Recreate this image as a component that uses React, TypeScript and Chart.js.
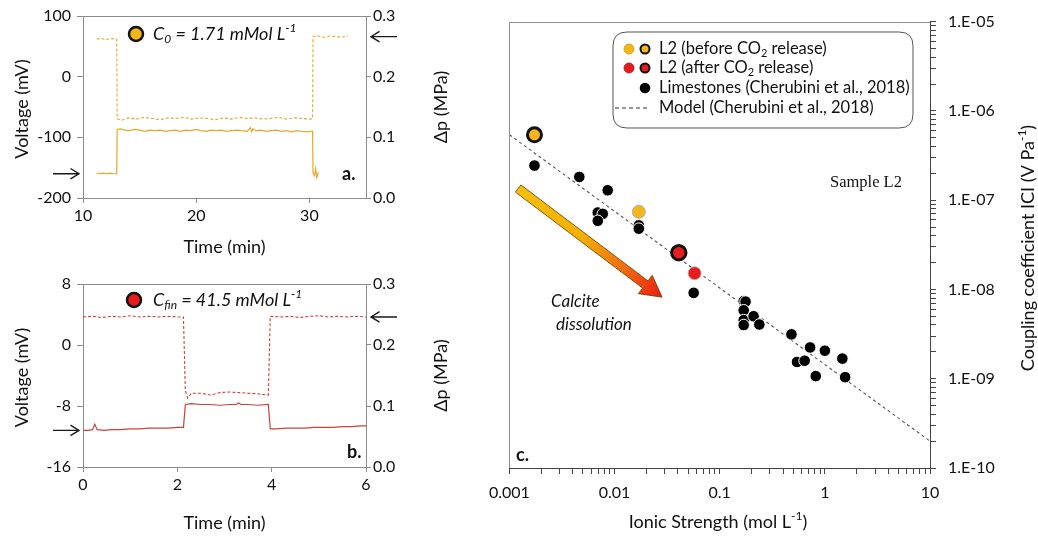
import React, { useEffect, useRef } from 'react';
import { Chart, registerables } from 'chart.js';
Chart.register(...registerables);

const SANS = 'Lato, "Open Sans", "DejaVu Sans", sans-serif';
const SERIF = '"Liberation Serif", "DejaVu Serif", serif';
Chart.defaults.font.family = SANS;

// ---------- Panel a (C0 = 1.71 mMol/L) ----------
const aTimeV = [11.2, 11.5, 11.8, 12.1, 12.4, 12.7, 12.98, 13.02, 13.3, 13.7, 14.1, 14.6, 15.0, 15.5, 15.9, 16.4, 16.8, 17.3, 17.7, 18.2, 18.6, 19.1, 19.5, 20.0, 20.4, 20.9, 21.3, 21.8, 22.2, 22.7, 23.1, 23.6, 24.0, 24.5, 24.8, 24.9, 25.0, 25.3, 25.7, 26.2, 26.6, 27.1, 27.5, 28.0, 28.4, 28.9, 29.3, 29.8, 30.28, 30.32, 30.45, 30.55, 30.65, 30.8];
const aVoltage = [-159, -160, -159, -160, -159, -160, -160, -87, -86, -88, -89, -87, -88, -90, -88, -89, -88, -90, -89, -88, -90, -88, -89, -87, -89, -90, -88, -89, -88, -90, -89, -88, -89, -90, -84, -91, -86, -89, -88, -90, -89, -88, -90, -89, -91, -89, -90, -91, -90, -158, -163, -152, -166, -157];
const aTimeP = [11.2, 11.6, 12.0, 12.4, 12.8, 12.98, 13.02, 13.4, 14.0, 14.7, 15.4, 16.1, 16.8, 17.5, 18.2, 18.9, 19.6, 20.3, 21.0, 21.7, 22.4, 23.1, 23.8, 24.5, 25.2, 25.9, 26.6, 27.3, 28.0, 28.7, 29.4, 30.1, 30.28, 30.32, 30.8, 31.3, 31.8, 32.3, 32.8, 33.4];
const aPressure = [0.262, 0.263, 0.261, 0.263, 0.262, 0.262, 0.131, 0.128, 0.132, 0.130, 0.133, 0.131, 0.129, 0.132, 0.131, 0.133, 0.130, 0.132, 0.131, 0.129, 0.132, 0.130, 0.133, 0.131, 0.132, 0.130, 0.131, 0.133, 0.130, 0.132, 0.131, 0.130, 0.131, 0.266, 0.267, 0.265, 0.267, 0.266, 0.265, 0.267];
const aXTicks = [10, 20, 30];
const aYTicks = [-200, -100, 0, 100];
const aArrowV = -160;
const aArrowP = 0.266;

// ---------- Panel b (Cfin = 41.5 mMol/L) ----------
const bTimeV = [0.0, 0.1, 0.2, 0.25, 0.3, 0.45, 0.6, 0.8, 1.0, 1.2, 1.4, 1.6, 1.8, 2.0, 2.13, 2.17, 2.3, 2.5, 2.7, 2.9, 3.1, 3.25, 3.3, 3.35, 3.5, 3.7, 3.93, 3.97, 4.1, 4.3, 4.5, 4.7, 4.9, 5.1, 5.3, 5.5, 5.7, 5.9, 6.0];
const bVoltage = [-11.2, -11.2, -11.1, -10.4, -11.1, -11.2, -11.1, -11.1, -11.0, -11.0, -10.9, -10.9, -10.9, -10.8, -10.8, -7.8, -7.7, -7.8, -7.8, -7.9, -7.8, -7.8, -7.6, -7.8, -7.8, -7.9, -7.8, -11.0, -11.0, -10.9, -10.9, -10.9, -10.8, -10.8, -10.8, -10.7, -10.7, -10.6, -10.6];
const bTimeP = [0.0, 0.2, 0.4, 0.6, 0.8, 1.0, 1.2, 1.4, 1.6, 1.8, 2.0, 2.13, 2.17, 2.22, 2.3, 2.5, 2.7, 2.9, 3.1, 3.3, 3.5, 3.7, 3.93, 3.97, 4.2, 4.4, 4.6, 4.8, 5.0, 5.2, 5.4, 5.6, 5.8, 6.0];
const bPressure = [0.246, 0.247, 0.245, 0.247, 0.246, 0.248, 0.246, 0.247, 0.246, 0.247, 0.246, 0.246, 0.125, 0.113, 0.121, 0.121, 0.118, 0.122, 0.123, 0.122, 0.121, 0.120, 0.118, 0.247, 0.246, 0.247, 0.245, 0.247, 0.248, 0.246, 0.247, 0.246, 0.247, 0.246];
const bXTicks = [0, 2, 4, 6];
const bYTicks = [-16, -8, 0, 8];
const bArrowV = -11.2;
const bArrowP = 0.246;

const pressureTicks = [0, 0.1, 0.2, 0.3];

// ---------- Panel c (coupling coefficient vs ionic strength) ----------
const limestoneI = [0.00173, 0.00462, 0.0086, 0.00692, 0.00772, 0.00692, 0.0170, 0.0170, 0.0565, 0.169, 0.176, 0.169, 0.169, 0.169, 0.210, 0.238, 0.481, 0.724, 1.0, 0.543, 0.642, 0.819, 1.466, 1.56];
const limestoneC = [2.44e-7, 1.82e-7, 1.29e-7, 7.27e-8, 7.02e-8, 5.87e-8, 5.22e-8, 4.79e-8, 9.15e-9, 7.40e-9, 7.3e-9, 5.84e-9, 4.53e-9, 3.99e-9, 5.01e-9, 4.05e-9, 3.14e-9, 2.24e-9, 2.06e-9, 1.54e-9, 1.59e-9, 1.07e-9, 1.68e-9, 1.04e-9];
const beforeI = [0.0170];
const beforeC = [7.4e-8];
const beforeMainI = [0.00173];
const beforeMainC = [5.4e-7];
const afterI = [0.0577];
const afterC = [1.52e-8];
const afterMainI = [0.0408];
const afterMainC = [2.58e-8];
const modelI = [0.001, 10];
const modelC = [5.4e-7, 2.0e-10];
const cXMajor = [0.001, 0.01, 0.1, 1, 10];
const cYMajor = [1e-10, 1e-9, 1e-8, 1e-7, 1e-6, 1e-5];

const YELLOW = '#F4B61A';
const RED = '#E81C1C';
const A_COLOR = '#E2A92C';
const B_COLOR = '#C8433C';
const AX = '#8C8C8C';
const TXT = '#111';

const zip = (xs: number[], ys: number[]) =>
  xs.slice(0, Math.min(xs.length, ys.length)).map((x, i) => ({ x, y: ys[i] }));

type Part = { t: string; k?: 'sub' | 'sup' };
function drawRich(
  ctx: CanvasRenderingContext2D,
  parts: Part[],
  x: number,
  y: number,
  size: number,
  o: { italic?: boolean; bold?: boolean; family?: string; align?: 'left' | 'center' | 'right'; color?: string } = {}
) {
  const fam = o.family || SANS;
  const st = (o.italic ? 'italic ' : '') + (o.bold ? 'bold ' : '');
  const fontFor = (p: Part) => `${st}${p.k ? Math.round(size * 0.65) : size}px ${fam}`;
  let total = 0;
  for (const p of parts) {
    ctx.font = fontFor(p);
    total += ctx.measureText(p.t).width;
  }
  let cx = o.align === 'center' ? x - total / 2 : o.align === 'right' ? x - total : x;
  ctx.fillStyle = o.color || TXT;
  ctx.textBaseline = 'middle';
  ctx.textAlign = 'left';
  for (const p of parts) {
    ctx.font = fontFor(p);
    const dy = p.k === 'sub' ? size * 0.3 : p.k === 'sup' ? -size * 0.33 : 0;
    ctx.fillText(p.t, cx, y + dy);
    cx += ctx.measureText(p.t).width;
  }
}

function drawRotated(ctx: CanvasRenderingContext2D, parts: Part[], x: number, y: number, size: number) {
  ctx.save();
  ctx.translate(x, y);
  ctx.rotate(-Math.PI / 2);
  drawRich(ctx, parts, 0, 0, size, { align: 'center' });
  ctx.restore();
}

function lineArrow(ctx: CanvasRenderingContext2D, x1: number, y1: number, x2: number, y2: number) {
  const a = Math.atan2(y2 - y1, x2 - x1);
  ctx.save();
  ctx.strokeStyle = '#1a1a1a';
  ctx.lineWidth = 1.4;
  ctx.beginPath();
  ctx.moveTo(x1, y1);
  ctx.lineTo(x2, y2);
  const hl = 10, ha = 0.55;
  ctx.moveTo(x2 - hl * Math.cos(a - ha), y2 - hl * Math.sin(a - ha));
  ctx.lineTo(x2, y2);
  ctx.lineTo(x2 - hl * Math.cos(a + ha), y2 - hl * Math.sin(a + ha));
  ctx.stroke();
  ctx.restore();
}

function gradientArrow(ctx: CanvasRenderingContext2D, x1: number, y1: number, x2: number, y2: number) {
  const dx = x2 - x1, dy = y2 - y1;
  const L = Math.hypot(dx, dy), ang = Math.atan2(dy, dx);
  const w = 4.5, H = 11.5, h = 21;
  ctx.save();
  ctx.translate(x1, y1);
  ctx.rotate(ang);
  const g = ctx.createLinearGradient(0, 0, L, 0);
  g.addColorStop(0, '#F8C00C');
  g.addColorStop(0.45, '#F6AE00');
  g.addColorStop(0.75, '#F2680F');
  g.addColorStop(1, '#EC1C14');
  ctx.beginPath();
  ctx.moveTo(0, -w);
  ctx.lineTo(L - h, -w);
  ctx.lineTo(L - h, -H);
  ctx.lineTo(L, 0);
  ctx.lineTo(L - h, H);
  ctx.lineTo(L - h, w);
  ctx.lineTo(0, w);
  ctx.closePath();
  ctx.fillStyle = g;
  ctx.fill();
  ctx.strokeStyle = '#6b4a00';
  ctx.lineWidth = 0.8;
  ctx.stroke();
  ctx.restore();
}

function circle(ctx: CanvasRenderingContext2D, x: number, y: number, r: number, fill: string, stroke: string, lw: number) {
  ctx.beginPath();
  ctx.arc(x, y, r, 0, Math.PI * 2);
  ctx.fillStyle = fill;
  ctx.fill();
  if (lw > 0) {
    ctx.strokeStyle = stroke;
    ctx.lineWidth = lw;
    ctx.stroke();
  }
}

type TimePanel = {
  w: number; h: number;
  area: { l: number; r: number; t: number; b: number };
  xMin: number; xMax: number; yMin: number; yMax: number;
  xTicks: number[]; yTicks: number[];
  color: string;
  tV: number[]; v: number[]; tP: number[]; p: number[];
  xTitleY: number;
  badge: { cx: number; cy: number; fill: string; parts: Part[] };
  letter: { t: string; x: number; y: number };
  arrowV: number; arrowP: number;
};

const PANEL_A: TimePanel = {
  w: 470, h: 262, area: { l: 83, r: 366, t: 16, b: 198 },
  xMin: 10, xMax: 35, yMin: -200, yMax: 100,
  xTicks: aXTicks, yTicks: aYTicks, color: A_COLOR,
  tV: aTimeV, v: aVoltage, tP: aTimeP, p: aPressure,
  xTitleY: 247,
  badge: { cx: 136, cy: 34, fill: YELLOW, parts: [{ t: 'C' }, { t: '0', k: 'sub' }, { t: ' = 1.71 mMol L' }, { t: '-1', k: 'sup' }] },
  letter: { t: 'a.', x: 342, y: 174 },
  arrowV: aArrowV, arrowP: aArrowP,
};

const PANEL_B: TimePanel = {
  w: 470, h: 276, area: { l: 83, r: 366, t: 22, b: 205 },
  xMin: 0, xMax: 6, yMin: -16, yMax: 8,
  xTicks: bXTicks, yTicks: bYTicks, color: B_COLOR,
  tV: bTimeV, v: bVoltage, tP: bTimeP, p: bPressure,
  xTitleY: 261,
  badge: { cx: 134, cy: 38, fill: RED, parts: [{ t: 'C' }, { t: 'fin', k: 'sub' }, { t: ' = 41.5 mMol L' }, { t: '-1', k: 'sup' }] },
  letter: { t: 'b.', x: 347, y: 190 },
  arrowV: bArrowV, arrowP: bArrowP,
};

function timeChart(canvas: HTMLCanvasElement, P: TimePanel) {
  const tickFont = { family: SANS, size: 16 };
  return new Chart(canvas, {
    type: 'scatter',
    data: {
      datasets: [
        { data: zip(P.tV, P.v), yAxisID: 'y', showLine: true, borderColor: P.color, borderWidth: 1.2, pointRadius: 0 } as any,
        { data: zip(P.tP, P.p), yAxisID: 'y2', showLine: true, borderColor: P.color, borderWidth: 1.1, borderDash: [3, 2], pointRadius: 0 } as any,
      ],
    },
    options: {
      responsive: false,
      animation: false,
      events: [],
      devicePixelRatio: 1,
      layout: { padding: { top: P.area.t, left: 0, right: 0, bottom: 0 } },
      plugins: { legend: { display: false }, tooltip: { enabled: false } },
      scales: {
        x: {
          type: 'linear', min: P.xMin, max: P.xMax,
          afterBuildTicks: (s: any) => { s.ticks = P.xTicks.map((v) => ({ value: v })); },
          afterFit: (s: any) => { s.height = P.h - P.area.b; },
          ticks: { font: tickFont, color: TXT, padding: 3, maxRotation: 0, autoSkip: false },
          grid: { drawOnChartArea: false, tickLength: 5, color: AX },
          border: { color: AX },
        },
        y: {
          type: 'linear', position: 'left', min: P.yMin, max: P.yMax,
          afterBuildTicks: (s: any) => { s.ticks = P.yTicks.map((v) => ({ value: v })); },
          afterFit: (s: any) => { s.width = P.area.l; },
          ticks: { font: tickFont, color: TXT, padding: 6, autoSkip: false },
          grid: { drawOnChartArea: false, tickLength: 6, color: AX },
          border: { color: AX },
        },
        y2: {
          type: 'linear', position: 'right', min: 0, max: 0.3,
          afterBuildTicks: (s: any) => { s.ticks = pressureTicks.map((v) => ({ value: v })); },
          afterFit: (s: any) => { s.width = P.w - P.area.r; },
          ticks: { font: tickFont, color: TXT, padding: 2, autoSkip: false, callback: (v: any) => Number(v).toFixed(1) },
          grid: { drawOnChartArea: false, tickLength: 5, color: AX },
          border: { color: AX },
        },
      },
    } as any,
    plugins: [
      {
        id: 'deco',
        afterDraw(chart: any) {
          const ctx = chart.ctx as CanvasRenderingContext2D;
          const ca = chart.chartArea;
          ctx.save();
          ctx.strokeStyle = AX;
          ctx.lineWidth = 1;
          ctx.beginPath();
          ctx.moveTo(ca.left, Math.round(ca.top) + 0.5);
          ctx.lineTo(ca.right, Math.round(ca.top) + 0.5);
          ctx.stroke();
          const mid = (ca.top + ca.bottom) / 2;
          drawRotated(ctx, [{ t: 'Voltage (mV)' }], 22, mid + 2, 18);
          drawRotated(ctx, [{ t: 'Δp (MPa)' }], 441, mid, 18);
          drawRich(ctx, [{ t: 'Time (min)' }], (ca.left + ca.right) / 2, P.xTitleY, 18, { align: 'center' });
          circle(ctx, P.badge.cx, P.badge.cy, 7, P.badge.fill, '#111', 2.5);
          drawRich(ctx, P.badge.parts, 153, P.badge.cy, 18, { italic: true });
          drawRich(ctx, [{ t: P.letter.t }], P.letter.x, P.letter.y, 18, { bold: true });
          const yv = chart.scales.y.getPixelForValue(P.arrowV);
          const yp = chart.scales.y2.getPixelForValue(P.arrowP);
          lineArrow(ctx, 53, yv, 79, yv);
          lineArrow(ctx, 397, yp, 371, yp);
          ctx.restore();
        },
      },
    ],
  });
}

const withMinor = (majors: number[]) => {
  const out: number[] = [];
  majors.forEach((m, i) => {
    out.push(m);
    if (i < majors.length - 1) for (let k = 2; k <= 9; k++) out.push(m * k);
  });
  return out;
};
const isDecade = (v: number) => Math.abs(Math.log10(v) - Math.round(Math.log10(v))) < 1e-6;

const C_OX = 480;
const C_AREA = { l: 23, r: 450, t: 16, b: 468 };
const C_W = 558, C_H = 538;

function ionicChart(canvas: HTMLCanvasElement) {
  const tickFont = { family: SANS, size: 16 };
  return new Chart(canvas, {
    type: 'scatter',
    data: {
      datasets: [
        { data: zip(afterMainI, afterMainC), backgroundColor: RED, borderColor: '#111', borderWidth: 3, pointRadius: 7.2 },
        { data: zip(afterI, afterC), backgroundColor: RED, borderColor: '#b0b0b0', borderWidth: 1, pointRadius: 6.5 },
        { data: zip(beforeMainI, beforeMainC), backgroundColor: YELLOW, borderColor: '#111', borderWidth: 3, pointRadius: 7 },
        { data: zip(beforeI, beforeC), backgroundColor: YELLOW, borderColor: '#b0b0b0', borderWidth: 1, pointRadius: 6.5 },
        { data: zip(limestoneI, limestoneC), backgroundColor: '#000', borderColor: '#fff', borderWidth: 1, pointRadius: 5.8 },
        { data: zip(modelI, modelC), showLine: true, borderColor: '#555', borderWidth: 1.1, borderDash: [3, 3], pointRadius: 0 },
      ] as any,
    },
    options: {
      responsive: false,
      animation: false,
      events: [],
      devicePixelRatio: 1,
      layout: { padding: { top: C_AREA.t, left: C_AREA.l, right: 0, bottom: 0 } },
      plugins: { legend: { display: false }, tooltip: { enabled: false } },
      scales: {
        x: {
          type: 'logarithmic', min: 0.001, max: 10,
          afterBuildTicks: (s: any) => { s.ticks = withMinor(cXMajor).map((v) => ({ value: v })); },
          afterFit: (s: any) => { s.height = C_H - C_AREA.b; },
          ticks: { font: tickFont, color: TXT, padding: 9, maxRotation: 0, autoSkip: false, callback: (v: any) => (isDecade(v) ? String(Number(Number(v).toPrecision(6))) : '') },
          grid: { drawOnChartArea: false, tickLength: 6, color: '#444' },
          border: { color: '#444' },
        },
        y: {
          type: 'logarithmic', position: 'right', min: 1e-10, max: 1e-5,
          afterBuildTicks: (s: any) => { s.ticks = withMinor(cYMajor).map((v) => ({ value: v })); },
          afterFit: (s: any) => { s.width = C_W - C_AREA.r; },
          ticks: {
            font: tickFont, color: TXT, padding: 12, autoSkip: false,
            callback: (v: any) => {
              if (!isDecade(v)) return '';
              const e = Math.round(Math.log10(v));
              return '1.E' + (e < 0 ? '-' : '+') + String(Math.abs(e)).padStart(2, '0');
            },
          },
          grid: { drawOnChartArea: false, tickLength: 6, color: '#444' },
          border: { color: '#444' },
        },
      },
    } as any,
    plugins: [
      {
        id: 'arrowUnder',
        beforeDatasetsDraw(chart: any) {
          const ctx = chart.ctx as CanvasRenderingContext2D;
          const xs = chart.scales.x, ys = chart.scales.y;
          gradientArrow(ctx, xs.getPixelForValue(0.00121), ys.getPixelForValue(1.35e-7), xs.getPixelForValue(0.0283), ys.getPixelForValue(8.2e-9));
        },
      },
      {
        id: 'decoC',
        afterDraw(chart: any) {
          const ctx = chart.ctx as CanvasRenderingContext2D;
          const ca = chart.chartArea;
          ctx.save();
          ctx.strokeStyle = AX;
          ctx.lineWidth = 1;
          ctx.beginPath();
          ctx.moveTo(Math.round(ca.left) + 0.5, ca.bottom);
          ctx.lineTo(Math.round(ca.left) + 0.5, Math.round(ca.top) + 0.5);
          ctx.lineTo(ca.right, Math.round(ca.top) + 0.5);
          ctx.stroke();

          drawRich(ctx, [{ t: 'Ionic Strength (mol L' }, { t: '-1', k: 'sup' }, { t: ')' }], 718 - C_OX, 522, 18, { align: 'center' });
          drawRotated(ctx, [{ t: 'Coupling coefficient ICI (V Pa' }, { t: '-1', k: 'sup' }, { t: ')' }], 1028 - C_OX, 248, 18);

          // legend box
          const bx = 613 - C_OX, by = 32, bw = 300, bh = 96, r = 14;
          ctx.beginPath();
          ctx.moveTo(bx + r, by);
          ctx.lineTo(bx + bw - r, by);
          ctx.quadraticCurveTo(bx + bw, by, bx + bw, by + r);
          ctx.lineTo(bx + bw, by + bh - r);
          ctx.quadraticCurveTo(bx + bw, by + bh, bx + bw - r, by + bh);
          ctx.lineTo(bx + r, by + bh);
          ctx.quadraticCurveTo(bx, by + bh, bx, by + bh - r);
          ctx.lineTo(bx, by + r);
          ctx.quadraticCurveTo(bx, by, bx + r, by);
          ctx.closePath();
          ctx.fillStyle = '#fff';
          ctx.fill();
          ctx.strokeStyle = '#555';
          ctx.lineWidth = 1;
          ctx.stroke();

          const tx = 659 - C_OX, m1 = 629 - C_OX, m2 = 645 - C_OX;
          const rows = [49, 68, 88, 108];
          circle(ctx, m1, rows[0], 5, YELLOW, '#c99a10', 0.8);
          circle(ctx, m2, rows[0], 4.5, YELLOW, '#111', 2);
          circle(ctx, m1, rows[1], 5, RED, '#b01010', 0.8);
          circle(ctx, m2, rows[1], 4.5, RED, '#111', 2);
          circle(ctx, m2, rows[2], 5.3, '#000', '#000', 0);
          ctx.save();
          ctx.strokeStyle = '#333';
          ctx.lineWidth = 1.2;
          ctx.setLineDash([4, 3]);
          ctx.beginPath();
          ctx.moveTo(615 - C_OX, rows[3]);
          ctx.lineTo(650 - C_OX, rows[3]);
          ctx.stroke();
          ctx.restore();
          const lf = 16.5;
          drawRich(ctx, [{ t: 'L2 (before CO' }, { t: '2', k: 'sub' }, { t: ' release)' }], tx, rows[0], lf);
          drawRich(ctx, [{ t: 'L2 (after CO' }, { t: '2', k: 'sub' }, { t: ' release)' }], tx, rows[1], lf);
          drawRich(ctx, [{ t: 'Limestones (Cherubini et al., 2018)' }], tx, rows[2], lf);
          drawRich(ctx, [{ t: 'Model (Cherubini et al., 2018)' }], tx, rows[3], lf);

          drawRich(ctx, [{ t: 'Sample L2' }], 830 - C_OX, 183, 16.5, { family: SERIF });
          drawRich(ctx, [{ t: 'Calcite' }], 551 - C_OX, 302, 17, { italic: true });
          drawRich(ctx, [{ t: 'dissolution' }], 556 - C_OX, 325, 17, { italic: true });
          drawRich(ctx, [{ t: 'c.' }], 516 - C_OX, 455, 18, { bold: true });
          ctx.restore();
        },
      },
    ],
  });
}

export default function App() {
  const aRef = useRef<HTMLCanvasElement>(null);
  const bRef = useRef<HTMLCanvasElement>(null);
  const cRef = useRef<HTMLCanvasElement>(null);
  useEffect(() => {
    const charts = [timeChart(aRef.current!, PANEL_A), timeChart(bRef.current!, PANEL_B), ionicChart(cRef.current!)];
    return () => charts.forEach((c) => c.destroy());
  }, []);
  return (
    <div style={{ position: 'absolute', left: 0, top: 0, width: 1038, height: 538, background: '#fff', overflow: 'hidden' }}>
      <canvas ref={aRef} width={470} height={262} style={{ position: 'absolute', left: 0, top: 0 }} />
      <canvas ref={bRef} width={470} height={276} style={{ position: 'absolute', left: 0, top: 262 }} />
      <canvas ref={cRef} width={C_W} height={C_H} style={{ position: 'absolute', left: C_OX, top: 0 }} />
    </div>
  );
}
